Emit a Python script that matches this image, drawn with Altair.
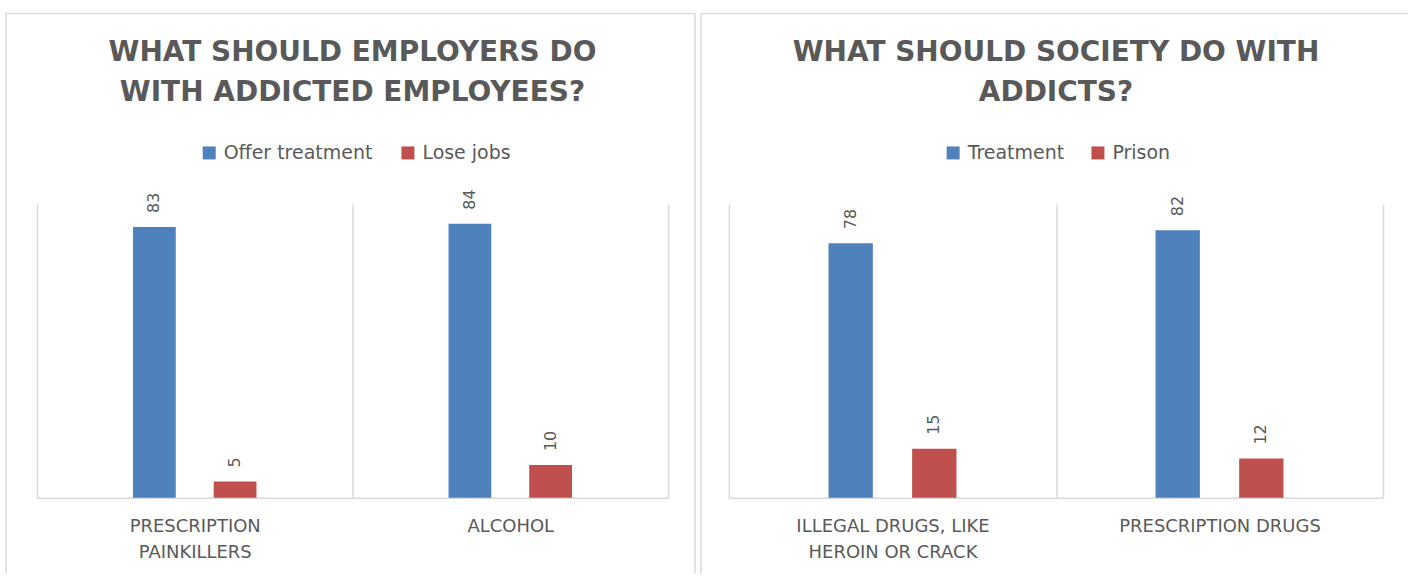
import altair as alt
import pandas as pd

# ---- data ----
emp_categories = ["PRESCRIPTION|PAINKILLERS", "ALCOHOL"]
emp_series = ["Offer treatment", "Lose jobs"]
emp_offer = [83, 84]
emp_lose = [5, 10]
emp_title = ["WHAT SHOULD EMPLOYERS DO", "WITH ADDICTED EMPLOYEES?"]

soc_categories = ["ILLEGAL DRUGS, LIKE|HEROIN OR CRACK", "PRESCRIPTION DRUGS"]
soc_series = ["Treatment", "Prison"]
soc_treat = [78, 82]
soc_prison = [15, 12]
soc_title = ["WHAT SHOULD SOCIETY DO WITH", "ADDICTS?"]

colors = ["#4F81BD", "#C0504D"]
TEXT = "#595959"
LINE = "#d9d9d9"
FONT = "DejaVu Sans"


def panel(categories, series, v1, v2, title, w, legend_x, col_pad, left_edge, right_edge, right_border):
    rows = []
    for c, a, b in zip(categories, v1, v2):
        rows.append({"category": c, "series": series[0], "value": a})
        rows.append({"category": c, "series": series[1], "value": b})
    df = pd.DataFrame(rows)

    # blank slots at both ends of the offset scale widen the outer margin of each group
    offset_domain = [" "] + series + ["  "]

    base = alt.Chart(df).encode(
        x=alt.X(
            "category:N",
            sort=categories,
            scale=alt.Scale(paddingInner=0, paddingOuter=0),
            axis=alt.Axis(
                title=None, grid=True, tickBand="extent", gridColor=LINE, gridWidth=1.5,
                domainColor=LINE, domainWidth=1.5, ticks=False, labelAngle=0,
                labelPadding=20, labelFontSize=18, labelColor=TEXT, labelFont=FONT,
                labelLineHeight=26, labelBaseline="top", labelLimit=600,
                labelExpr="split(datum.label, '|')",
            ),
        ),
        xOffset=alt.XOffset("series:N",
                            scale=alt.Scale(domain=offset_domain, paddingInner=0.47,
                                            paddingOuter=0.19)),
        y=alt.Y("value:Q", scale=alt.Scale(domain=[0, 90]), axis=None),
    )
    bars = base.mark_bar().encode(
        color=alt.Color(
            "series:N", sort=series,
            scale=alt.Scale(domain=series, range=colors),
            legend=alt.Legend(
                orient="none", legendX=legend_x, legendY=-61, direction="horizontal",
                title=None, symbolType="square", symbolSize=169, symbolStrokeWidth=0,
                symbolOpacity=1, labelFontSize=19, labelFont=FONT, labelColor=TEXT,
                columnPadding=col_pad, labelOffset=5, labelLimit=400,
            ),
        )
    )
    labels = base.mark_text(
        angle=270, align="left", baseline="middle", dx=14, fontSize=16,
        color=TEXT, font=FONT,
    ).encode(text="value:Q")

    one = pd.DataFrame({"k": [0]})
    ttl = alt.Chart(one).mark_text(
        text=title, fontSize=28, fontWeight="bold", font=FONT, color=TEXT,
        lineHeight=40, align="center", baseline="middle",
    ).encode(x=alt.value(w / 2), y=alt.value(-151))

    top_rule = alt.Chart(one).mark_rule(color=LINE, strokeWidth=1.5).encode(
        x=alt.value(left_edge), x2=alt.value(right_edge),
        y=alt.value(-191), y2=alt.value(-191))
    left_rule = alt.Chart(one).mark_rule(color=LINE, strokeWidth=1.5).encode(
        x=alt.value(left_edge), x2=alt.value(left_edge),
        y=alt.value(-191), y2=alt.value(370))
    layers = [top_rule, left_rule, ttl, bars, labels]
    if right_border:
        right_rule = alt.Chart(one).mark_rule(color=LINE, strokeWidth=1.5).encode(
            x=alt.value(right_edge), x2=alt.value(right_edge),
            y=alt.value(-191), y2=alt.value(370))
        layers.append(right_rule)
    return alt.layer(*layers).properties(width=w, height=294)


left = panel(emp_categories, emp_series, emp_offer, emp_lose, emp_title, 632, 163, 26, -31, 659, True)
right = panel(soc_categories, soc_series, soc_treat, soc_prison, soc_title, 655, 215, 24, -28, 680, False)

chart = (
    alt.hconcat(left, right, spacing=4)
    .resolve_scale(color="independent", x="independent", xOffset="independent")
    .resolve_legend(color="independent")
    .properties(padding={"left": 5, "top": 12, "right": 0, "bottom": 0})
    .configure_view(strokeWidth=0)
)

chart.save("out.html", embed_options={"renderer": "svg", "actions": False})
